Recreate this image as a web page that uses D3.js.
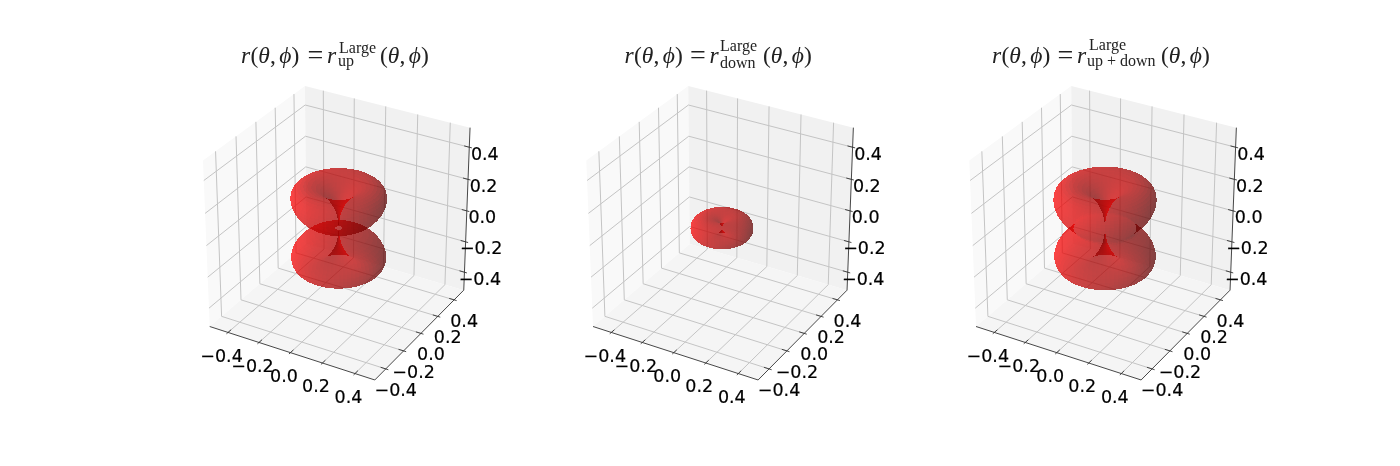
<!DOCTYPE html>
<html><head><meta charset="utf-8">
<script src="https://cdn.jsdelivr.net/npm/d3@7"></script>
<style>
html,body{margin:0;padding:0;background:#fff}
svg{display:block;filter:blur(0.45px)}
.tick{font-family:"DejaVu Sans";font-size:17.5px;fill:#000;stroke:#000;stroke-width:.2px;text-anchor:middle}
.title{font-family:"Liberation Serif";font-size:23.5px;fill:#222}
.title .s{font-size:16px}
.title .i{font-style:italic}
.title .eq{font-size:28px}
</style></head><body><svg id="c" width="1400" height="466"></svg>
<script>
// tick values on each of the three axes
const tickValues = [-0.4, -0.2, 0.0, 0.2, 0.4];
// radius at polar angle 0,3,...,90 degrees (mirrored below the equator)
const radiusUp = [0,.0355,.0707,.1051,.1383,.17,.1999,.2275,.2527,.2751,.2944,.3106,.3234,.3326,.3381,.34,
  .3381,.3326,.3234,.3106,.2944,.2751,.2527,.2275,.1999,.17,.1383,.1051,.0707,.0355,.02];
const radiusDown = [0,.0009,.003,.0061,.0101,.0151,.0207,.0271,.034,.0405,.0475,.055,.0625,.07,.078,.086,
  .095,.1039,.1126,.121,.129,.1365,.1436,.1499,.1556,.1605,.1646,.1678,.1701,.1715,.172];
const radiusSum = [0,.0355,.0707,.1052,.1385,.1704,.2006,.2286,.2543,.2774,.2975,.3148,.3288,.3395,.3468,.3507,
  .3512,.3484,.3424,.3333,.3214,.3071,.2907,.2724,.2533,.2338,.215,.198,.1842,.1751,.172];
const sup = "Large";
const subs = ["up", "down", "up + down"];
const profiles = [radiusUp, radiusDown, radiusSum];
const panelShift = [0, 383.3, 766.3];
const titleLayout = [
  {start:241, r:327, sup:339, sub:338, tail:380, supY:53, subY:65.5},
  {start:624.5, r:709.5, sup:720, sub:720, tail:763, supY:51, subY:68},
  {start:992, r:1077, sup:1089, sub:1087, tail:1161, supY:50, subY:65.5}
];
const limit = 0.52;
const faceAlpha = 0.48;

const svg = d3.select("#c");
const toBox = d3.scaleLinear().domain([-limit, limit]).range([0, 1]);
const screenX = d3.scaleLinear().domain([-.0712, .0689]).range([203, 470]);
const screenY = d3.scaleLinear().domain([-.0802, .0749]).range([380, 86]);
const rad = d3.scaleLinear().domain([0, 180]).range([0, Math.PI]);

const elev = rad(30), azim = rad(-60), dist = 10;
const nh = [Math.cos(elev)*Math.cos(azim), Math.cos(elev)*Math.sin(azim), Math.sin(elev)];
const uh = [-Math.sin(azim), Math.cos(azim), 0];
const vh = [nh[1]*uh[2]-nh[2]*uh[1], nh[2]*uh[0]-nh[0]*uh[2], nh[0]*uh[1]-nh[1]*uh[0]];
const dot = (a,b)=>a[0]*b[0]+a[1]*b[1]+a[2]*b[2];
// project a point in box coordinates (0..1 each)
function projBox(p){
  const q=[p[0]-.5,p[1]-.5,p[2]-.5];
  const d=dist-dot(q,nh);
  return {x:dot(q,uh)/d, y:dot(q,vh)/d, d};
}
const boxOf = p => [toBox(p[0]), toBox(p[1]), toBox(p[2])];
const light = [-.6667,-.6667,.3333];

profiles.forEach((profile, idx)=>{
  const g = svg.append("g").attr("transform", `translate(${panelShift[idx]},0)`);
  const P = p => { const r=projBox(p); return [screenX(r.x), screenY(r.y)]; };
  const line = d3.line();
  const poly = pts => line(pts.map(P))+"Z";
  // panes
  g.append("path").attr("d",poly([[0,0,0],[0,1,0],[0,1,1],[0,0,1]])).attr("fill","rgb(249,249,249)");
  g.append("path").attr("d",poly([[0,1,0],[1,1,0],[1,1,1],[0,1,1]])).attr("fill","rgb(241,241,241)");
  g.append("path").attr("d",poly([[0,0,0],[1,0,0],[1,1,0],[0,1,0]])).attr("fill","rgb(245,245,245)");
  // grid
  const gridColor="#c4c4c4";
  const drawLine=(pts,col,w)=>g.append("path").attr("d",line(pts.map(P))).attr("fill","none").attr("stroke",col).attr("stroke-width",w);
  tickValues.forEach(v=>{
    const t=toBox(v);
    drawLine([[t,0,0],[t,1,0],[t,1,1]],gridColor,1);
    drawLine([[1,t,0],[0,t,0],[0,t,1]],gridColor,1);
    drawLine([[0,0,t],[0,1,t],[1,1,t]],gridColor,1);
  });
  // axis lines
  const axisColor="#333";
  drawLine([[0,0,0],[1,0,0]],axisColor,.9);
  drawLine([[1,0,0],[1,1,0]],axisColor,.9);
  drawLine([[1,1,0],[1,1,1]],axisColor,.9);
  // ticks and labels
  const fmt=v=>d3.format(".1f")(v).replace("-","\u2212");
  const label=(p,dx,dy,v)=>{const s=P(p);
    g.append("text").attr("class","tick").attr("x",s[0]+dx).attr("y",s[1]+dy).attr("dy",".36em").text(fmt(v));};
  tickValues.forEach(v=>{
    const t=toBox(v);
    drawLine([[t,.03,0],[t,-.015,0]],axisColor,.9);
    label([t,0,0],-6.5,23,v);
    drawLine([[.97,t,0],[1.015,t,0]],axisColor,.9);
    label([1,t,0],10,20.5,v);
    drawLine([[.97,1,t],[1.015,1,t]],axisColor,.9);
    label([1,1,t],15.5,6,v);
  });
  // surface
  const nT=profile.length*2-2, nP=72;
  const rOf=i=>profile[i<=30?i:60-i];
  const vertex=(i,j)=>{
    const th=rad(i*3), ph=rad(j*5), r=rOf(i);
    return [r*Math.sin(th)*Math.cos(ph), r*Math.sin(th)*Math.sin(ph), r*Math.cos(th)];
  };
  const faces=[];
  for(let i=0;i<nT;i++)for(let j=0;j<nP;j++){
    const a=vertex(i,j),b=vertex(i+1,j),c=vertex(i+1,j+1),d=vertex(i,j+1);
    const d1=[c[0]-a[0],c[1]-a[1],c[2]-a[2]], d2=[d[0]-b[0],d[1]-b[1],d[2]-b[2]];
    let n=[d1[1]*d2[2]-d1[2]*d2[1], d1[2]*d2[0]-d1[0]*d2[2], d1[0]*d2[1]-d1[1]*d2[0]];
    const len=Math.hypot(...n)||1; n=n.map(x=>x/len);
    const s=dot(n,light);
    const pts=[a,b,c,d].map(boxOf);
    const depth=d3.mean(pts,p=>projBox(p).d);
    faces.push({pts,s,depth});
  }
  faces.sort((p,q)=>q.depth-p.depth);
  g.append("g").attr("shape-rendering","crispEdges").selectAll("path").data(faces).join("path")
    .attr("d",f=>poly(f.pts))
    .attr("fill",f=>`rgb(${Math.round(255*(.3+.7*(f.s+1)/2))},0,0)`)
    .attr("fill-opacity",faceAlpha);
});
// titles
const group=(t,x,y)=>{
  const h=t.append("tspan").attr("x",x).attr("y",y);
  h.append("tspan").text("(");
  h.append("tspan").attr("class","i").text("θ");
  h.append("tspan").text(",");
  h.append("tspan").attr("class","i").attr("dx",3.5).text("ϕ");
  h.append("tspan").text(")");
};
titleLayout.forEach((L,idx)=>{
  const t=svg.append("text").attr("class","title").attr("y",63);
  t.append("tspan").attr("x",L.start).attr("class","i").text("r");
  group(t,L.start+9.5,63);
  t.append("tspan").attr("x",L.r-19.5).attr("y",64).attr("class","eq").text("=");
  t.append("tspan").attr("x",L.r).attr("y",63).attr("class","i").text("r");
  t.append("tspan").attr("x",L.sup).attr("y",L.supY).attr("class","s").text(sup);
  t.append("tspan").attr("x",L.sub).attr("y",L.subY).attr("class","s").text(subs[idx]);
  group(t,L.tail,63);
});
</script></body></html>
